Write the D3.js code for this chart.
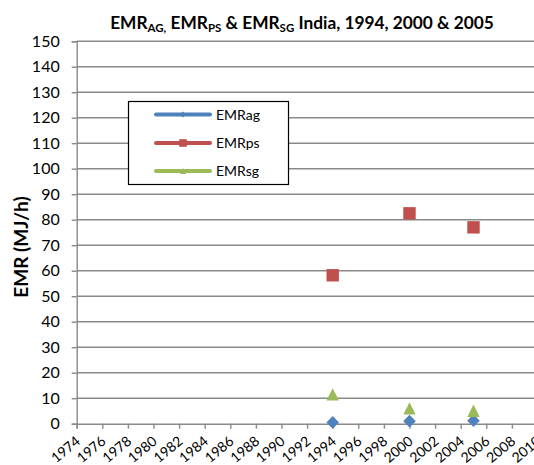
<!DOCTYPE html>
<html>
<head>
<meta charset="utf-8">
<script src="https://cdn.jsdelivr.net/npm/d3@7"></script>
<style>
  html, body { margin: 0; padding: 0; background: #fff; }
  svg { display: block; }
  text { font-family: Lato, "Open Sans", sans-serif; fill: #000; }
</style>
</head>
<body>
<svg id="chart" width="534" height="465"></svg>
<script>
// Survey years and EMR values (MJ/h) per series
const years = [1994, 2000, 2005];
const emrAg = [0.5, 1.0, 1.2];
const emrPs = [58.2, 82.5, 77.0];
const emrSg = [11.5, 6.0, 5.1];

const seriesNames = ["EMRag", "EMRps", "EMRsg"];
const seriesColors = ["#4F81BD", "#C0504D", "#9BBB59"];

const xTicks = d3.range(1974, 2011, 2);
const yTicks = d3.range(0, 151, 10);

// Marker shapes, r = half-width in px
const shapes = {
  diamond: r => `M0,${-r}L${r},0L0,${r}L${-r},0Z`,
  square: r => `M${-r},${-r}H${r}V${r}H${-r}Z`,
  triangle: r => `M0,${-r}L${r},${r}L${-r},${r}Z`
};
const seriesShapes = ["diamond", "square", "triangle"];

const svg = d3.select("#chart");
const x = d3.scaleLinear().domain([1974, 2010]).range([76.7, 537.5]);
const y = d3.scaleLinear().domain([0, 150]).range([423.7, 41.2]);

const gridColor = "#8a8a8a";

// Horizontal gridlines
svg.append("g").selectAll("line").data(yTicks.filter(v => v > 0)).join("line")
  .attr("x1", x(1974)).attr("x2", x(2010))
  .attr("y1", d => y(d)).attr("y2", d => y(d))
  .attr("stroke", gridColor).attr("stroke-width", 1.4);

// Y axis
const yAxis = svg.append("g").attr("transform", `translate(${x(1974)},0)`)
  .call(d3.axisLeft(y).tickValues(yTicks).tickSize(5).tickPadding(12));
yAxis.select(".domain").attr("stroke", gridColor).attr("stroke-width", 1.4);
yAxis.selectAll(".tick line").attr("stroke", gridColor).attr("stroke-width", 1.4);
yAxis.selectAll(".tick text").attr("font-size", 16).attr("font-family", "Lato").attr("fill", "#000");

// X axis
const xAxis = svg.append("g").attr("transform", `translate(0,${y(0)})`)
  .call(d3.axisBottom(x).tickValues(xTicks).tickFormat(d3.format("d")).tickSize(5));
xAxis.select(".domain").attr("stroke", gridColor).attr("stroke-width", 1.4);
xAxis.selectAll(".tick line").attr("stroke", gridColor).attr("stroke-width", 1.4);
xAxis.selectAll(".tick text")
  .attr("font-size", 14).attr("font-family", "Lato").attr("fill", "#000")
  .attr("text-anchor", "end").attr("dy", 0).attr("y", 0)
  .attr("transform", "translate(4,19) rotate(-40)");

// Markers
const allSeries = [emrAg, emrPs, emrSg];
const markerR = [6.3, 6.2, 6.2];
allSeries.forEach((vals, i) => {
  svg.append("g").selectAll("path").data(vals).join("path")
    .attr("d", shapes[seriesShapes[i]](markerR[i]))
    .attr("transform", (d, j) => `translate(${x(years[j])},${y(d)})`)
    .attr("fill", seriesColors[i]);
});

// Legend
const legend = svg.append("g");
legend.append("rect")
  .attr("x", 128.5).attr("y", 101.5).attr("width", 160).attr("height", 83)
  .attr("fill", "#fff").attr("stroke", "#000").attr("stroke-width", 1.2);
const legendY = [114.5, 143, 171];
const legendR = [3, 3.8, 3];
seriesNames.forEach((name, i) => {
  legend.append("line")
    .attr("x1", 156).attr("x2", 210).attr("y1", legendY[i]).attr("y2", legendY[i])
    .attr("stroke", seriesColors[i]).attr("stroke-width", 4).attr("stroke-linecap", "round");
  legend.append("path")
    .attr("d", shapes[seriesShapes[i]](legendR[i]))
    .attr("transform", `translate(183,${legendY[i]})`)
    .attr("fill", seriesColors[i]);
  legend.append("text")
    .attr("x", 216).attr("y", legendY[i] + 5)
    .attr("font-size", 14).text(name);
});

// Title with subscripts
const title = svg.append("text")
  .attr("x", 302).attr("y", 29)
  .attr("text-anchor", "middle")
  .attr("font-size", 17.3).attr("font-weight", "bold");
const parts = [
  ["EMR", false], ["AG,", true], [" EMR", false], ["PS", true],
  [" & EMR", false], ["SG", true], [" India, 1994, 2000 & 2005", false]
];
parts.forEach(([t, sub]) => {
  title.append("tspan")
    .attr("font-size", sub ? 11.5 : 17.3)
    .attr("baseline-shift", sub ? "-25%" : null)
    .text(t);
});

// Y axis title
svg.append("text")
  .attr("transform", `translate(27.5,247) rotate(-90)`)
  .attr("text-anchor", "middle")
  .attr("font-size", 19).attr("font-weight", "bold")
  .text("EMR (MJ/h)");
</script>
</body>
</html>
